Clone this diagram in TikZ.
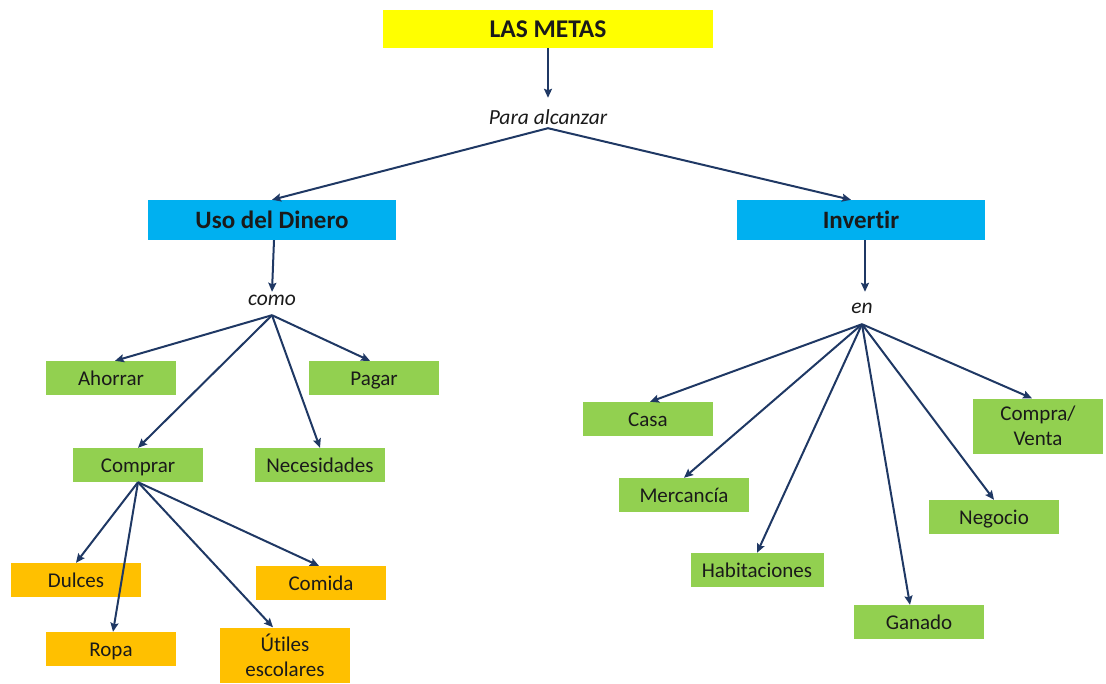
\documentclass[tikz,border=0pt]{standalone}
\usepackage{fontspec}
\setmainfont{Carlito}[Ligatures=NoCommon]
\usetikzlibrary{arrows.meta}
\definecolor{ink}{HTML}{1A1A1A}
\definecolor{navy}{HTML}{1F3864}
\definecolor{amarillo}{HTML}{FFFF00}
\definecolor{celeste}{HTML}{00B0F0}
\definecolor{verde}{HTML}{92D050}
\definecolor{naranja}{HTML}{FFC000}
\tikzset{
  box/.style={rectangle, inner sep=0pt, text=ink, align=center, font=\fontsize{21}{25}\selectfont},
  uno/.style={text height=14pt, text depth=0pt},
  meta/.style={box, fill=amarillo, minimum width=330pt, minimum height=38pt, text height=17pt, text depth=1pt, font=\fontsize{25.5}{30}\selectfont\bfseries},
  tema/.style={box, fill=celeste, minimum width=248pt, minimum height=40pt, text height=17pt, text depth=1pt, font=\fontsize{25}{30}\selectfont\bfseries},
  item/.style={box, fill=verde, minimum width=130pt, minimum height=34pt},
  cosa/.style={box, fill=naranja, minimum width=130pt, minimum height=34pt},
  lnk/.style={inner sep=0pt, anchor=base, text=ink, font=\fontsize{21.5}{25}\selectfont\itshape},
  arr/.style={draw=navy, line width=2pt, -{Stealth[length=9pt,width=8pt,inset=1.5pt]}},
}

\begin{document}
\begin{tikzpicture}[x=1pt, y=-1pt]
  \useasboundingbox (0,0) rectangle (1106,683);
  % top
  \node[meta] (metas) at (548,29) {LAS METAS};
  \node[lnk, text height=26pt, text depth=4pt] (para) at (548,124) {Para alcanzar};
  \node[tema] (uso) at (272,220) {Uso del Dinero};
  \node[tema] (inv) at (861,220) {Invertir};
  \draw[arr] (metas.south) -- (para.north);
  \draw[arr] (para.south) -- (uso.north);
  \draw[arr] (para.south) -- ([xshift=-10pt]inv.north);

  % uso del dinero
  \node[lnk, text height=13pt, text depth=10pt] (como) at (272,305) {como};
  \draw[arr] ([xshift=2pt]uso.south) -- (como.north);
  \node[item, uno] (ahorrar) at (111,378) {Ahorrar};
  \node[item, uno] (pagar) at (374,378) {Pagar};
  \node[item, uno] (comprar) at (138,465) {Comprar};
  \node[item, uno] (necesidades) at (320,465) {Necesidades};
  \draw[arr] (como.south) -- ([xshift=4pt]ahorrar.north);
  \draw[arr] (como.south) -- (comprar.north);
  \draw[arr] (como.south) -- (necesidades.north);
  \draw[arr] (como.south) -- ([xshift=-4pt]pagar.north);

  \node[cosa, uno] (dulces) at (76,580) {Dulces};
  \node[cosa, uno] (ropa) at (111,649) {Ropa};
  \node[cosa, minimum height=55pt] (utiles) at (285,655) {Útiles\\escolares};
  \node[cosa, uno] (comida) at (321,583) {Comida};
  \draw[arr] (comprar.south) -- (dulces.north);
  \draw[arr] (comprar.south) -- ([xshift=2pt]ropa.north);
  \draw[arr] (comprar.south) -- ([xshift=-12pt]utiles.north);
  \draw[arr] (comprar.south) -- ([xshift=-2pt]comida.north);

  % invertir
  \node[lnk, text height=21pt, text depth=11pt] (en) at (862,313) {en};
  \draw[arr] ([xshift=4pt]inv.south) -- ([xshift=3pt]en.north);
  \node[item, uno] (casa) at (648,419) {Casa};
  \node[item, uno] (mercancia) at (684,495) {Mercancía};
  \node[item, uno, minimum width=133pt] (habitaciones) at (757,570) {Habitaciones};
  \node[item, uno] (ganado) at (919,622) {Ganado};
  \node[item, uno] (negocio) at (994,517) {Negocio};
  \node[item, minimum height=55pt] (compraventa) at (1038,426) {Compra/\\Venta};
  \draw[arr] (en.south) -- ([xshift=2pt]casa.north);
  \draw[arr] (en.south) -- (mercancia.north);
  \draw[arr] (en.south) -- (habitaciones.north);
  \draw[arr] (en.south) -- ([xshift=-9pt]ganado.north);
  \draw[arr] (en.south) -- (negocio.north);
  \draw[arr] (en.south) -- ([xshift=-6pt]compraventa.north);
\end{tikzpicture}
\end{document}
